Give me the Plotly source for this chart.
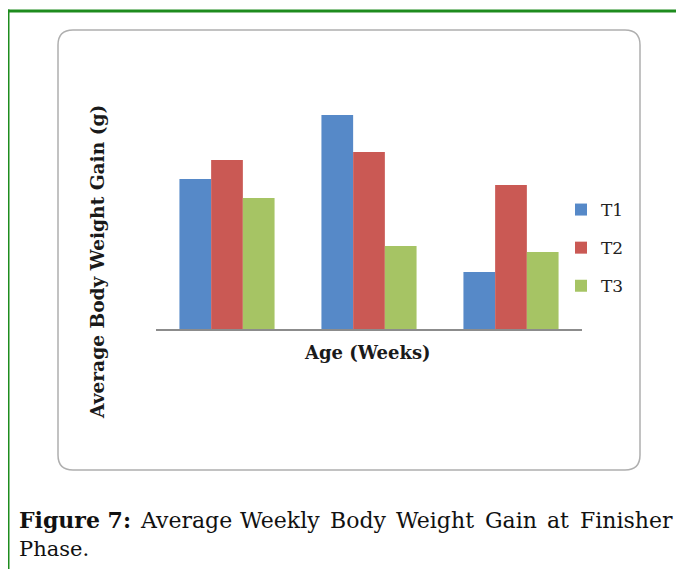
import plotly.graph_objects as go

# ---- data (no scale shown, values in relative units) ----
weeks = ["Week 1", "Week 2", "Week 3"]
t1_gain = [150, 214, 57]
t2_gain = [169, 177, 144]
t3_gain = [131, 83, 77]
series_names = ["T1", "T2", "T3"]
series_colors = ["#5689C8", "#CA5954", "#A6C464"]

OFF = 8  # page body margin of the html page
W, H = 684 - OFF, 569 - OFF
PL, PR, PT, PB = 156, 582, 95, 329  # plot area in screenshot pixels


def px(x):
    return (x - PL) / (PR - PL)


def py(y):
    return (PB - y) / (PB - PT)


fig = go.Figure()
for name, vals, col in zip(series_names, [t1_gain, t2_gain, t3_gain], series_colors):
    fig.add_trace(go.Bar(x=weeks, y=vals, name=name, legendgroup=name,
                         marker=dict(color=col, line=dict(width=0))))

# rounded chart frame
x0, x1, y0, y1, r = 58, 640, 30, 470, 15
path = (f"M {px(x0+r)},{py(y0)} L {px(x1-r)},{py(y0)} Q {px(x1)},{py(y0)} {px(x1)},{py(y0+r)} "
        f"L {px(x1)},{py(y1-r)} Q {px(x1)},{py(y1)} {px(x1-r)},{py(y1)} "
        f"L {px(x0+r)},{py(y1)} Q {px(x0)},{py(y1)} {px(x0)},{py(y1-r)} "
        f"L {px(x0)},{py(y0+r)} Q {px(x0)},{py(y0)} {px(x0+r)},{py(y0)} Z")
shapes = [
    dict(type="path", xref="paper", yref="paper", path=path,
         line=dict(color="#AFAFAF", width=1.5), layer="below"),
    # green page border
    dict(type="line", xref="paper", yref="paper", x0=px(8), x1=px(8), y0=py(9.5), y1=py(580),
         line=dict(color="#1E8C1E", width=3)),
    dict(type="line", xref="paper", yref="paper", x0=px(6.5), x1=px(700), y0=py(11), y1=py(11),
         line=dict(color="#1E8C1E", width=3)),
]

# justified first caption line: word start positions
caption_words = ["Average", "Weekly", "Body", "Weight", "Gain", "at", "Finisher"]
caption_x = [138, 238, 328, 394, 483, 545, 578]
CAP_FONT = dict(family="DejaVu Serif", size=22, color="#111111")

annotations = [
    dict(text="<b>Average Body Weight Gain (g)</b>", textangle=-90, xref="paper", yref="paper",
         x=px(97), y=py(262), showarrow=False, xanchor="center", yanchor="middle",
         font=dict(family="DejaVu Serif", size=18.6, color="#1a1a1a")),
    dict(text="<b>Age (Weeks)</b>", xref="paper", yref="paper",
         x=px(367), y=py(352), showarrow=False, xanchor="center", yanchor="middle",
         font=dict(family="DejaVu Serif", size=18, color="#1a1a1a")),
    dict(text="<b>Figure 7:</b>", xref="paper", yref="paper",
         x=px(17), y=py(520), showarrow=False, xanchor="left", yanchor="middle",
         font=CAP_FONT),
    dict(text="Phase.", xref="paper", yref="paper",
         x=px(17), y=py(549), showarrow=False, xanchor="left", yanchor="middle",
         font=dict(family="DejaVu Serif", size=21, color="#111111")),
]
for wd, wx in zip(caption_words, caption_x):
    annotations.append(dict(text=wd, xref="paper", yref="paper", x=px(wx), y=py(520),
                            showarrow=False, xanchor="left", yanchor="middle", font=CAP_FONT))

fig.update_layout(
    width=W, height=H,
    margin=dict(l=PL - OFF, r=W - (PR - OFF), t=PT - OFF, b=H - (PB - OFF), autoexpand=False),
    paper_bgcolor="white", plot_bgcolor="white",
    barmode="group", bargap=0.33, bargroupgap=0,
    showlegend=True,
    legend=dict(x=px(561), y=py(192), xanchor="left", yanchor="top",
                traceorder="grouped", tracegroupgap=13,
                font=dict(family="DejaVu Serif", size=17, color="#222222"),
                bgcolor="rgba(0,0,0,0)"),
    xaxis=dict(showline=True, linecolor="#8C8C8C", linewidth=2, showticklabels=False,
               ticks="", showgrid=False, zeroline=False, range=[-0.5, 2.5]),
    yaxis=dict(visible=False, range=[0, PB - PT], showgrid=False, zeroline=False),
    shapes=shapes, annotations=annotations,
)

fig.write_html("out.html")
